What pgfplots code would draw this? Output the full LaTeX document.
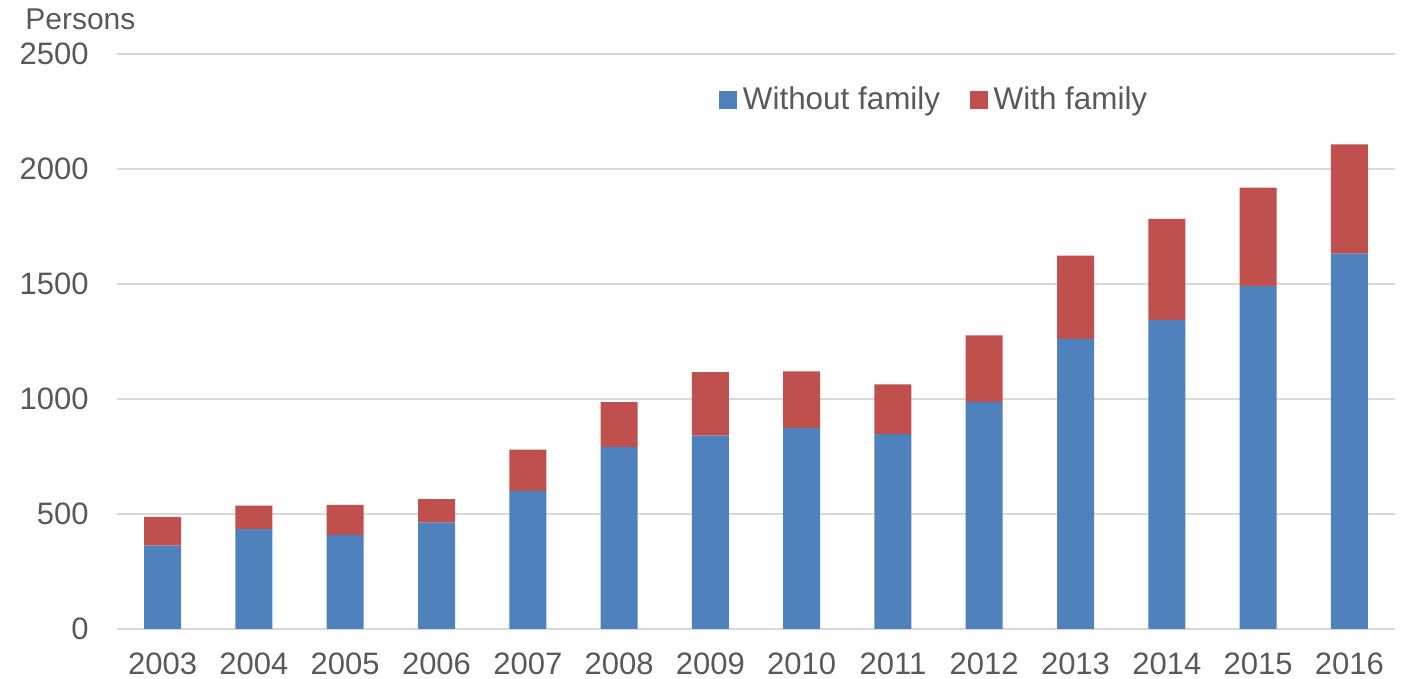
\documentclass[border=0pt]{standalone}
\usepackage{pgfplots}
\pgfplotsset{compat=1.18}
\usepackage{fontspec}
\setmainfont{Liberation Sans}
\definecolor{barblue}{HTML}{4F81BD}
\definecolor{barred}{HTML}{C0504D}
\definecolor{txt}{HTML}{595959}
\definecolor{gridc}{HTML}{D9D9D9}
\begin{document}
\begin{tikzpicture}
\path[use as bounding box] (-58.5pt,-25pt) rectangle (643.5pt,314.5pt);
\begin{axis}[
  at={(0pt,0pt)}, anchor=south west,
  scale only axis,
  width=639pt, height=287.5pt,
  clip=false,
  ybar stacked,
  bar width=18.5pt,
  xmin=-0.5, xmax=13.5,
  ymin=0, ymax=2500,
  ytick={0,500,1000,1500,2000,2500},
  xtick={0,...,13},
  xticklabels={2003,2004,2005,2006,2007,2008,2009,2010,2011,2012,2013,2014,2015,2016},
  axis line style={draw=none},
  major tick length=0pt,
  ymajorgrids,
  grid style={gridc, line width=1pt},
  /pgf/number format/assume math mode=true,
  /pgf/number format/1000 sep={},
  tick label style={text=txt, font=\fontsize{15.5}{18}\selectfont},
  yticklabel style={anchor=east, inner sep=0pt, xshift=-14pt},
  xticklabel style={anchor=center, inner sep=0pt, yshift=-17.5pt},
  legend style={at={(0.471,0.92)}, anchor=west, draw=none, fill=none,
    legend columns=2, text=txt, font=\fontsize{15.7}{19}\selectfont,
    /tikz/every even column/.append style={column sep=13pt},
    inner sep=0pt},
  legend image code/.code={\fill[#1] (0pt,-4.5pt) rectangle (9pt,4.5pt);},
  legend cell align=left,
]
\addplot[fill=barblue, draw=none] coordinates {
 (0,363) (1,435) (2,409) (3,462) (4,599) (5,791) (6,841)
 (7,874) (8,847) (9,987) (10,1261) (11,1343) (12,1491) (13,1632)};
\addlegendentry{\hspace{0.8pt}Without family}
\addplot[fill=barred, draw=none] coordinates {
 (0,124) (1,101) (2,131) (3,103) (4,181) (5,195) (6,276)
 (7,246) (8,217) (9,290) (10,362) (11,440) (12,428) (13,475)};
\addlegendentry{\hspace{0.8pt}With family}
\node[anchor=west, inner sep=0pt, text=txt, font=\fontsize{15}{18}\selectfont]
  at (axis description cs:-0.072,1.061) {Persons};
\end{axis}
\end{tikzpicture}
\end{document}
